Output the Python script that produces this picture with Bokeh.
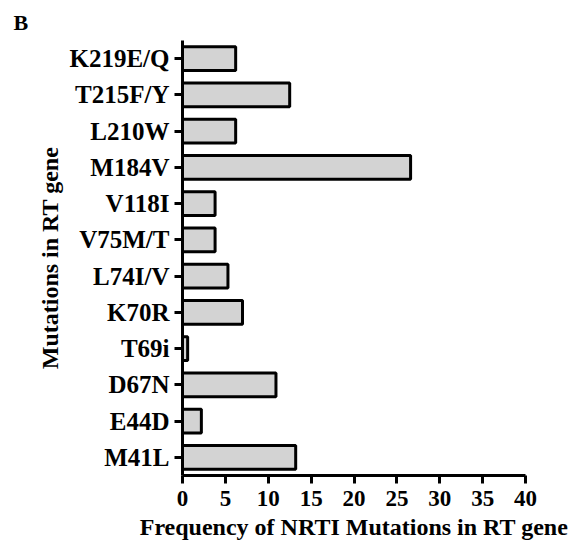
from bokeh.plotting import figure
from bokeh.models import FactorRange, Range1d, FixedTicker
from bokeh.embed import file_html
from bokeh.resources import INLINE

categories = ["M41L", "E44D", "D67N", "T69i", "K70R", "L74I/V", "V75M/T",
              "V118I", "M184V", "L210W", "T215F/Y", "K219E/Q"]
frequency = [13.2, 2.2, 10.9, 0.6, 7.0, 5.3, 3.8, 3.8, 26.6, 6.2, 12.5, 6.2]
x_ticks = [0, 5, 10, 15, 20, 25, 30, 35, 40]
panel_letter = "B"

FONT = "Liberation Serif"

p = figure(width=580, height=552, output_backend="svg", toolbar_location=None,
           y_range=FactorRange(*categories), x_range=Range1d(0, 40),
           min_border_left=182, min_border_right=55, min_border_top=40,
           min_border_bottom=77, title=panel_letter)

p.hbar(y=categories, right=frequency, left=0, height=0.65,
       fill_color="#d3d3d3", line_color="black", line_width=3)

p.outline_line_color = None
p.xgrid.grid_line_color = None
p.ygrid.grid_line_color = None

for ax in (p.xaxis[0], p.yaxis[0]):
    ax.axis_line_width = 3
    ax.axis_line_color = "black"
    ax.major_tick_line_width = 3
    ax.major_tick_line_color = "black"
    ax.major_tick_out = 8
    ax.major_tick_in = 0
    ax.minor_tick_line_color = None
    ax.major_label_text_font = FONT
    ax.major_label_text_font_style = "bold"
    ax.major_label_text_color = "black"
    ax.axis_label_text_font = FONT
    ax.axis_label_text_font_style = "bold"
    ax.axis_label_text_font_size = "24px"
    ax.axis_label_text_color = "black"

p.xaxis.ticker = FixedTicker(ticks=x_ticks)
p.xaxis.major_label_text_font_size = "23px"
p.xaxis.major_label_standoff = 7
p.xaxis.axis_label = "Frequency of NRTI Mutations in RT gene"
p.xaxis.axis_label_standoff = 5
p.yaxis.major_label_text_font_size = "25px"
p.yaxis.major_label_standoff = 5
p.yaxis.axis_label = "Mutations in RT gene"
p.yaxis.axis_label_standoff = 3

p.title.text_font = FONT
p.title.text_font_style = "bold"
p.title.text_font_size = "22px"
p.title.text_color = "black"
p.title.align = "left"
p.title.offset = -169
p.title.standoff = 12

open("out.html", "w").write(file_html(p, INLINE))
